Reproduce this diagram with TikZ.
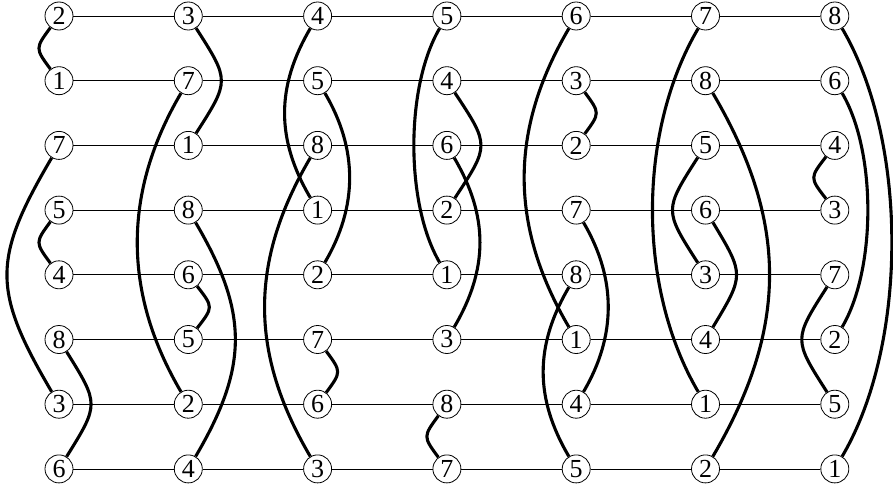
\documentclass[tikz,border=0pt]{standalone}
\usepackage{fontspec}
\setmainfont{Liberation Serif}
\begin{document}
\begin{tikzpicture}[x=1pt,y=1pt,
  num/.style={circle, draw, line width=0.8pt, minimum size=28pt, inner sep=0pt, fill=white, font=\rmfamily\fontsize{26}{26}\selectfont},
  rowline/.style={line width=0.8pt},
  pairc/.style={line width=3.1pt}]
\useasboundingbox (0,0) rectangle (893,-487);
\foreach \c/\labs in {1/{2,1,7,5,4,8,3,6}, 2/{3,7,1,8,6,5,2,4}, 3/{4,5,8,1,2,7,6,3}, 4/{5,4,6,2,1,3,8,7}, 5/{6,3,2,7,8,1,4,5}, 6/{7,8,5,6,3,4,1,2}, 7/{8,6,4,3,7,2,5,1}} {
  \foreach \l [count=\r] in \labs {
    \node[num] (n\c\r) at ({59+129.3*(\c-1)}, {-16-64.7*(\r-1)}) {\l};
  }
}
\foreach \r in {1,...,8} {
  \foreach \c [evaluate=\c as \d using int(\c+1)] in {1,...,6} {
    \draw[rowline] (n\c\r) -- (n\d\r);
  }
}
\foreach \c/\a/\b/\A in {
  1/1/2/-20, 1/3/7/-52, 1/4/5/-20, 1/6/8/32,
  2/1/3/33, 2/2/7/-51, 2/4/8/47, 2/5/6/21,
  3/1/4/-33, 3/2/5/32, 3/3/8/-53, 3/6/7/20,
  4/1/5/-33, 4/2/4/34, 4/3/6/33, 4/7/8/-20,
  5/1/6/-52, 5/2/3/20, 5/4/7/32, 5/5/8/-33,
  6/1/7/-53, 6/2/8/64, 6/3/5/-33, 6/4/6/31,
  7/1/8/57, 7/2/6/33, 7/3/4/-21, 7/5/7/-33} {
  \pgfmathsetmacro\Xo{(8*\A-14.2*sign(\A))/6}
  \pgfmathsetmacro\V{min(1.7*abs(\Xo), 0.5*64.7*(\b-\a))}
  \pgfmathsetmacro\s{14*\Xo/veclen(\Xo,\V)}
  \pgfmathsetmacro\X{(8*\A-2*\s)/6}
  \draw[pairc] (n\c\a) .. controls +(\X,-\V) and +(\X,\V) .. (n\c\b);
}
\end{tikzpicture}
\end{document}
